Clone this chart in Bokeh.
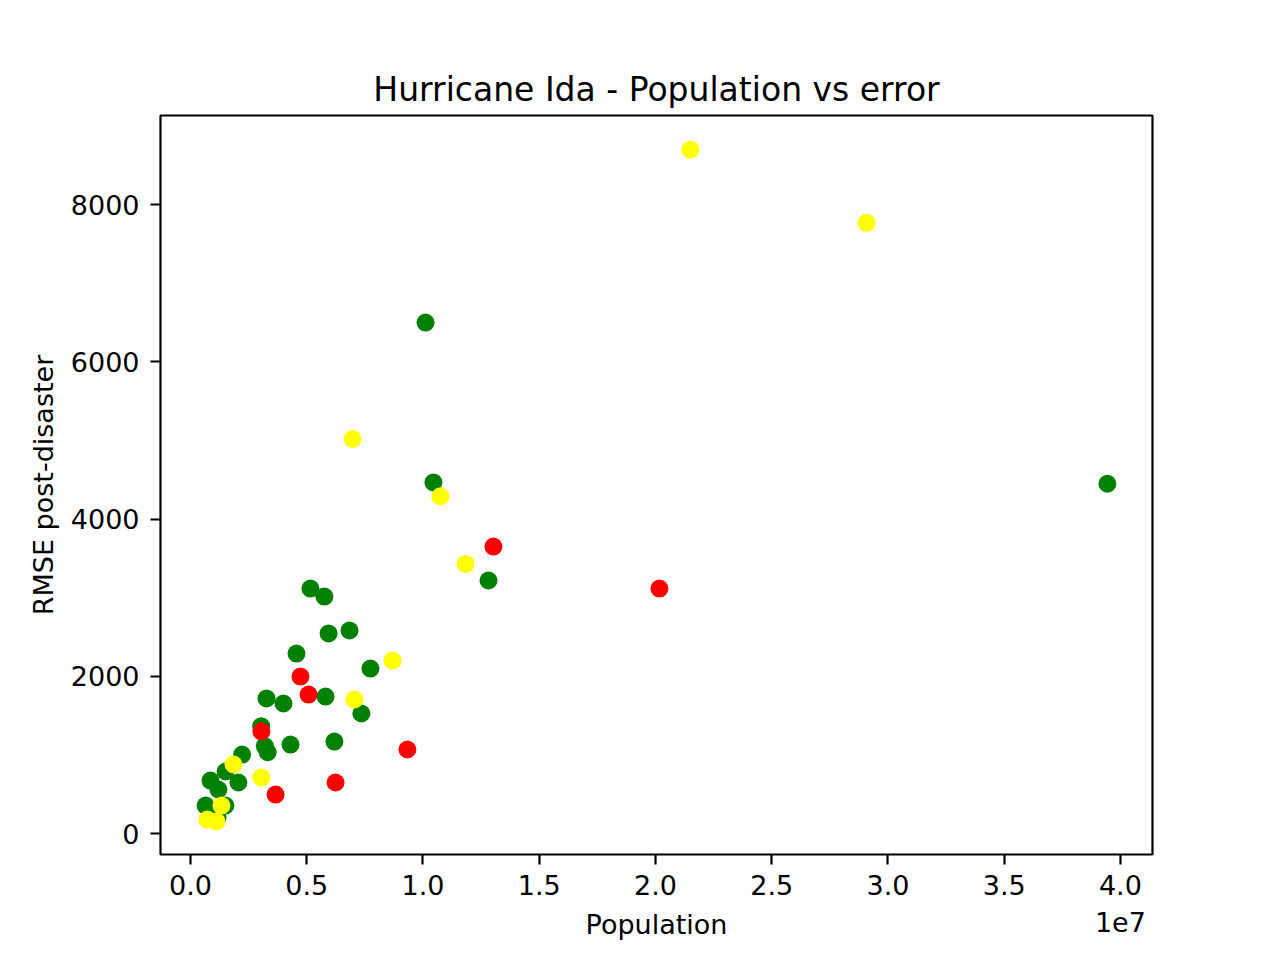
from bokeh.plotting import figure
from bokeh.models import FixedTicker, CustomJSTickFormatter, Range1d
from bokeh.embed import file_html
from bokeh.resources import INLINE

# ---- data ----
green_pop = [3.944e7, 1.011e7, 1.045e7, 1.282e7, 0.516e7, 0.576e7, 0.684e7, 0.594e7,
             0.456e7, 0.774e7, 0.581e7, 0.327e7, 0.400e7, 0.735e7, 0.304e7, 0.320e7,
             0.332e7, 0.430e7, 0.619e7, 0.222e7, 0.151e7, 0.206e7, 0.086e7, 0.120e7,
             0.065e7, 0.150e7, 0.116e7]
green_rmse = [4450, 6500, 4466, 3219, 3117, 3015, 2583, 2545,
              2290, 2099, 1743, 1718, 1654, 1527, 1365, 1111,
              1034, 1132, 1170, 1005, 789, 649, 674, 560,
              356, 356, 204]

red_pop = [1.303e7, 2.017e7, 0.473e7, 0.508e7, 0.305e7, 0.933e7, 0.624e7, 0.366e7]
red_rmse = [3650, 3117, 1997, 1768, 1298, 1069, 649, 496]

yellow_pop = [2.150e7, 2.908e7, 0.697e7, 1.075e7, 1.183e7, 0.869e7, 0.705e7, 0.185e7,
              0.305e7, 0.133e7, 0.073e7, 0.112e7]
yellow_rmse = [8700, 7770, 5020, 4290, 3430, 2200, 1705, 878,
               712, 356, 178, 153]

x_ticks = [0, 0.5e7, 1.0e7, 1.5e7, 2.0e7, 2.5e7, 3.0e7, 3.5e7, 4.0e7]
y_ticks = [0, 2000, 4000, 6000, 8000]
x_offset_text = "1e7"

FONT = "DejaVu Sans"

p = figure(width=1264, height=944, output_backend="svg", toolbar_location=None,
           x_range=Range1d(-1.29e6, 4.138e7), y_range=Range1d(-267, 9135),
           min_border_left=160, min_border_right=112, min_border_top=115,
           min_border_bottom=90,
           title="Hurricane Ida - Population vs error")

p.title.text_font = FONT
p.title.text_font_size = "33px"
p.title.text_font_style = "normal"
p.title.align = "center"
p.title.text_color = "black"
p.title.standoff = 14

p.xgrid.visible = False
p.ygrid.visible = False
p.outline_line_color = "black"
p.outline_line_width = 2.2
p.background_fill_color = "white"
p.border_fill_color = "white"

for ax in (p.xaxis[0], p.yaxis[0]):
    ax.axis_line_color = None
    ax.major_tick_line_width = 2.2
    ax.major_tick_out = 10
    ax.major_tick_in = 0
    ax.minor_tick_line_color = None
    ax.major_label_text_font = FONT
    ax.major_label_text_font_size = "27px"
    ax.major_label_text_color = "black"
    ax.axis_label_text_font = FONT
    ax.axis_label_text_font_size = "27px"
    ax.axis_label_text_font_style = "normal"
    ax.axis_label_text_color = "black"

p.xaxis.major_label_standoff = 5
p.yaxis.major_label_standoff = 11
p.xaxis.ticker = FixedTicker(ticks=x_ticks)
last_tick = x_ticks[-1]
p.xaxis.formatter = CustomJSTickFormatter(
    args=dict(last=last_tick, off=x_offset_text),
    code="""
const s = (tick/1e7).toFixed(1);
return (tick == last) ? (s + "\\n" + off) : s;
""")
p.yaxis.ticker = FixedTicker(ticks=y_ticks)
p.xaxis.axis_label = "Population"
p.yaxis.axis_label = "RMSE post-disaster"
p.xaxis.axis_label_standoff = -32
p.yaxis.axis_label_standoff = 9

p.scatter(green_pop, green_rmse, size=18, color="#008000", line_color=None)
p.scatter(red_pop, red_rmse, size=18, color="#ff0000", line_color=None)
p.scatter(yellow_pop, yellow_rmse, size=18, color="#ffff00", line_color=None)

open("out.html", "w").write(file_html(p, INLINE))
